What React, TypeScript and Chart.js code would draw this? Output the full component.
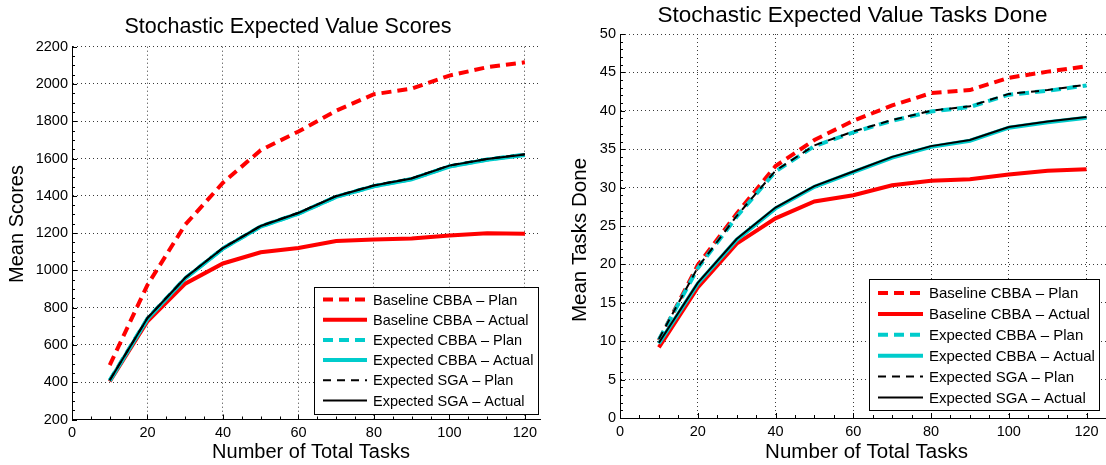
import React, { useEffect, useRef } from 'react';
import { Chart, registerables } from 'chart.js';

Chart.register(...registerables);

// ---------------- data ----------------
const tasks = [10, 20, 30, 40, 50, 60, 70, 80, 90, 100, 110, 120];

const seriesLabels = [
  'Baseline CBBA – Plan',
  'Baseline CBBA – Actual',
  'Expected CBBA – Plan',
  'Expected CBBA – Actual',
  'Expected SGA – Plan',
  'Expected SGA – Actual',
];

// Left panel: mean scores
const scoreBaselinePlan = [492, 922, 1245, 1470, 1645, 1745, 1857, 1945, 1975, 2045, 2090, 2116];
const scoreBaselineActual = [404, 727, 929, 1037, 1097, 1120, 1157, 1166, 1171, 1187, 1199, 1197];
const scoreExpCbbaPlan = [410, 742, 958, 1118, 1236, 1305, 1395, 1452, 1490, 1558, 1595, 1620];
const scoreExpCbbaActual = [408, 740, 957, 1117, 1235, 1304, 1394, 1451, 1489, 1557, 1594, 1619];
const scoreSgaPlan = [411, 745, 961, 1121, 1239, 1309, 1399, 1456, 1494, 1563, 1598, 1623];
const scoreSgaActual = [410, 744, 960, 1120, 1238, 1308, 1398, 1455, 1493, 1562, 1597, 1622];

// Right panel: mean tasks done
const doneBaselinePlan = [10.1, 19.9, 26.6, 32.8, 36.2, 38.7, 40.7, 42.3, 42.7, 44.3, 45.1, 45.8];
const doneBaselineActual = [9.2, 17.0, 22.7, 26.0, 28.2, 29.0, 30.3, 30.9, 31.1, 31.7, 32.2, 32.4];
const doneExpCbbaPlan = [10.2, 19.5, 26.2, 32.1, 35.4, 37.2, 38.7, 39.9, 40.5, 42.1, 42.6, 43.3];
const doneExpCbbaActual = [9.7, 17.5, 23.2, 27.3, 30.1, 32.0, 33.9, 35.3, 36.1, 37.8, 38.5, 39.1];
const doneSgaPlan = [10.3, 19.6, 26.3, 32.2, 35.5, 37.3, 38.8, 40.0, 40.6, 42.2, 42.7, 43.4];
const doneSgaActual = [9.8, 17.6, 23.3, 27.4, 30.2, 32.1, 34.0, 35.4, 36.2, 37.9, 38.6, 39.2];

// tick labels
const xTickValues = [0, 20, 40, 60, 80, 100, 120];
const scoreTickValues = [200, 400, 600, 800, 1000, 1200, 1400, 1600, 1800, 2000, 2200];
const doneTickValues = [0, 5, 10, 15, 20, 25, 30, 35, 40, 45, 50];

// ---------------- styles ----------------
const FONT = '"Liberation Sans", Arial, Helvetica, sans-serif';
const RED = '#ff0000';
const CYAN = '#00cccc';
const BLACK = '#000000';

const seriesStyles = [
  { color: RED, width: 4, dash: [10, 6], order: 4 },
  { color: RED, width: 4, dash: [] as number[], order: 3 },
  { color: CYAN, width: 4, dash: [10, 6], order: 2 },
  { color: CYAN, width: 4, dash: [] as number[], order: 2 },
  { color: BLACK, width: 2, dash: [8, 6], order: 1 },
  { color: BLACK, width: 2, dash: [] as number[], order: 0 },
];

type PanelCfg = {
  left: number;
  width: number;
  title: string;
  titleSize: number;
  titleX: number;
  titleBase: number;
  xTitle: string;
  xTitleX: number;
  xTitleBase: number;
  yTitle: string;
  yTitleBaseX: number;
  yTitleY: number;
  axisTitleSize: number;
  tickSize: number;
  series: number[][];
  yTicks: number[];
  yMin: number;
  yMax: number;
  yMinor: number;
  xMax: number;
  xMinor: number;
  padTop: number;
  padRight: number;
  yScaleWidth: number;
  xScaleHeight: number;
  legend: { x1: number; y1: number; x2: number; y2: number; lineX1: number; lineX2: number; textX: number; row0: number; rowStep: number; size: number };
};

const scoresPanel: PanelCfg = {
  left: 0,
  width: 556,
  title: 'Stochastic Expected Value Scores',
  titleSize: 21.5,
  titleX: 288,
  titleBase: 33,
  xTitle: 'Number of Total Tasks',
  xTitleX: 311,
  xTitleBase: 457.5,
  yTitle: 'Mean Scores',
  yTitleBaseX: 23,
  yTitleY: 224,
  axisTitleSize: 20,
  tickSize: 14.5,
  series: [scoreBaselinePlan, scoreBaselineActual, scoreExpCbbaPlan, scoreExpCbbaActual, scoreSgaPlan, scoreSgaActual],
  yTicks: scoreTickValues,
  yMin: 200,
  yMax: 2200,
  yMinor: 50,
  xMax: 124,
  xMinor: 5,
  padTop: 46.7,
  padRight: 16,
  yScaleWidth: 72,
  xScaleHeight: 45.5,
  legend: { x1: 314, y1: 287, x2: 538, y2: 414, lineX1: 323, lineX2: 367, textX: 373, row0: 299.5, rowStep: 20.2, size: 14.5 },
};

const donePanel: PanelCfg = {
  left: 556,
  width: 550,
  title: 'Stochastic Expected Value Tasks Done',
  titleSize: 22.5,
  titleX: 296.5,
  titleBase: 21.5,
  xTitle: 'Number of Total Tasks',
  xTitleX: 310.5,
  xTitleBase: 457.5,
  yTitle: 'Mean Tasks Done',
  yTitleBaseX: 30,
  yTitleY: 240,
  axisTitleSize: 20.5,
  tickSize: 14.5,
  series: [doneBaselinePlan, doneBaselineActual, doneExpCbbaPlan, doneExpCbbaActual, doneSgaPlan, doneSgaActual],
  yTicks: doneTickValues,
  yMin: 0,
  yMax: 50,
  yMinor: 1,
  xMax: 125,
  xMinor: 5,
  padTop: 34,
  padRight: 0,
  yScaleWidth: 64,
  xScaleHeight: 47,
  legend: { x1: 313, y1: 279.3, x2: 543, y2: 410.7, lineX1: 322, lineX2: 367, textX: 373, row0: 293, rowStep: 20.9, size: 15 },
};

function isMultiple(v: number, step: number) {
  const r = v / step;
  return Math.abs(r - Math.round(r)) < 1e-6;
}

function makeDecorPlugin(cfg: PanelCfg) {
  return {
    id: 'matlabDecor',
    afterDraw(chart: any) {
      const ctx: CanvasRenderingContext2D = chart.ctx;
      const xs = chart.scales.x;
      const ys = chart.scales.y;
      const { left, bottom } = chart.chartArea;
      ctx.save();

      // inward ticks (major + minor)
      ctx.strokeStyle = '#000';
      ctx.lineWidth = 1;
      ctx.setLineDash([]);
      ctx.beginPath();
      for (let v = 0; v <= cfg.xMax + 1e-9; v += cfg.xMinor) {
        const px = Math.round(xs.getPixelForValue(v)) + 0.5;
        const len = isMultiple(v, 20) ? 5 : 3;
        ctx.moveTo(px, bottom);
        ctx.lineTo(px, bottom - len);
      }
      const yMajor = cfg.yTicks[1] - cfg.yTicks[0];
      for (let v = cfg.yMin; v <= cfg.yMax + 1e-9; v += cfg.yMinor) {
        const py = Math.round(ys.getPixelForValue(v)) + 0.5;
        const len = isMultiple(v - cfg.yMin, yMajor) ? 5 : 3;
        ctx.moveTo(left, py);
        ctx.lineTo(left + len, py);
      }
      ctx.stroke();

      // legend
      const L = cfg.legend;
      ctx.fillStyle = '#fff';
      ctx.fillRect(L.x1, L.y1, L.x2 - L.x1, L.y2 - L.y1);
      ctx.strokeStyle = '#000';
      ctx.lineWidth = 1;
      ctx.strokeRect(Math.round(L.x1) + 0.5, Math.round(L.y1) + 0.5, Math.round(L.x2 - L.x1), Math.round(L.y2 - L.y1));
      ctx.font = `${L.size}px ${FONT}`;
      ctx.textAlign = 'left';
      ctx.textBaseline = 'middle';
      seriesLabels.forEach((lab, i) => {
        const st = seriesStyles[i];
        const y = L.row0 + i * L.rowStep;
        ctx.beginPath();
        ctx.strokeStyle = st.color;
        ctx.lineWidth = st.width;
        ctx.setLineDash(st.dash);
        ctx.moveTo(L.lineX1, y);
        ctx.lineTo(L.lineX2, y);
        ctx.stroke();
        ctx.setLineDash([]);
        ctx.fillStyle = '#000';
        ctx.fillText(lab, L.textX, y + 1);
      });

      // titles
      ctx.fillStyle = '#000';
      ctx.textBaseline = 'alphabetic';
      ctx.textAlign = 'center';
      ctx.font = `${cfg.titleSize}px ${FONT}`;
      ctx.fillText(cfg.title, cfg.titleX, cfg.titleBase);
      ctx.font = `${cfg.axisTitleSize}px ${FONT}`;
      ctx.fillText(cfg.xTitle, cfg.xTitleX, cfg.xTitleBase);
      ctx.save();
      ctx.translate(cfg.yTitleBaseX, cfg.yTitleY);
      ctx.rotate(-Math.PI / 2);
      ctx.fillText(cfg.yTitle, 0, 0);
      ctx.restore();

      ctx.restore();
    },
  };
}

function Panel({ cfg }: { cfg: PanelCfg }) {
  const ref = useRef<HTMLCanvasElement | null>(null);

  useEffect(() => {
    if (!ref.current) return;
    const datasets = cfg.series.map((arr, i) => {
      const st = seriesStyles[i];
      return {
        label: seriesLabels[i],
        data: tasks.map((t, j) => ({ x: t, y: arr[j] })),
        borderColor: st.color,
        backgroundColor: st.color,
        borderWidth: st.width,
        borderDash: st.dash,
        pointRadius: 0,
        tension: 0,
        fill: false,
        order: st.order,
      };
    });

    const tickFont = { family: FONT, size: cfg.tickSize };
    const chart = new Chart(ref.current, {
      type: 'line',
      data: { datasets },
      options: {
        animation: false,
        responsive: false,
        maintainAspectRatio: false,
        layout: { padding: { top: cfg.padTop, right: cfg.padRight, left: 0, bottom: 0 } },
        plugins: {
          legend: { display: false },
          title: { display: false },
          tooltip: { enabled: false },
        },
        scales: {
          x: {
            type: 'linear',
            min: 0,
            max: cfg.xMax,
            afterBuildTicks: (s: any) => {
              s.ticks = xTickValues.map((v) => ({ value: v }));
            },
            afterFit: (s: any) => {
              s.height = cfg.xScaleHeight;
            },
            ticks: {
              font: tickFont,
              color: '#000',
              padding: 5,
              maxRotation: 0,
              autoSkip: false,
              callback: (v: any) => String(v),
            },
            grid: { color: '#3a3a3a', lineWidth: 1, drawTicks: false },
            border: { display: true, color: '#000', width: 1, dash: [1, 3] },
          },
          y: {
            type: 'linear',
            min: cfg.yMin,
            max: cfg.yMax,
            afterBuildTicks: (s: any) => {
              s.ticks = cfg.yTicks.map((v) => ({ value: v }));
            },
            afterFit: (s: any) => {
              s.width = cfg.yScaleWidth;
            },
            ticks: {
              font: tickFont,
              color: '#000',
              padding: 4,
              autoSkip: false,
              callback: (v: any) => String(v),
            },
            grid: { color: '#3a3a3a', lineWidth: 1, drawTicks: false },
            border: { display: true, color: '#000', width: 1, dash: [1, 3] },
          },
        },
      } as any,
      plugins: [makeDecorPlugin(cfg)],
    });
    return () => chart.destroy();
  }, [cfg]);

  return (
    <div style={{ position: 'absolute', left: cfg.left, top: 0, width: cfg.width, height: 465 }}>
      <canvas ref={ref} width={cfg.width} height={465} style={{ display: 'block' }} />
    </div>
  );
}

export default function App() {
  return (
    <div style={{ position: 'absolute', left: 0, top: 0, width: 1106, height: 465, background: '#fff' }}>
      <Panel cfg={scoresPanel} />
      <Panel cfg={donePanel} />
    </div>
  );
}
